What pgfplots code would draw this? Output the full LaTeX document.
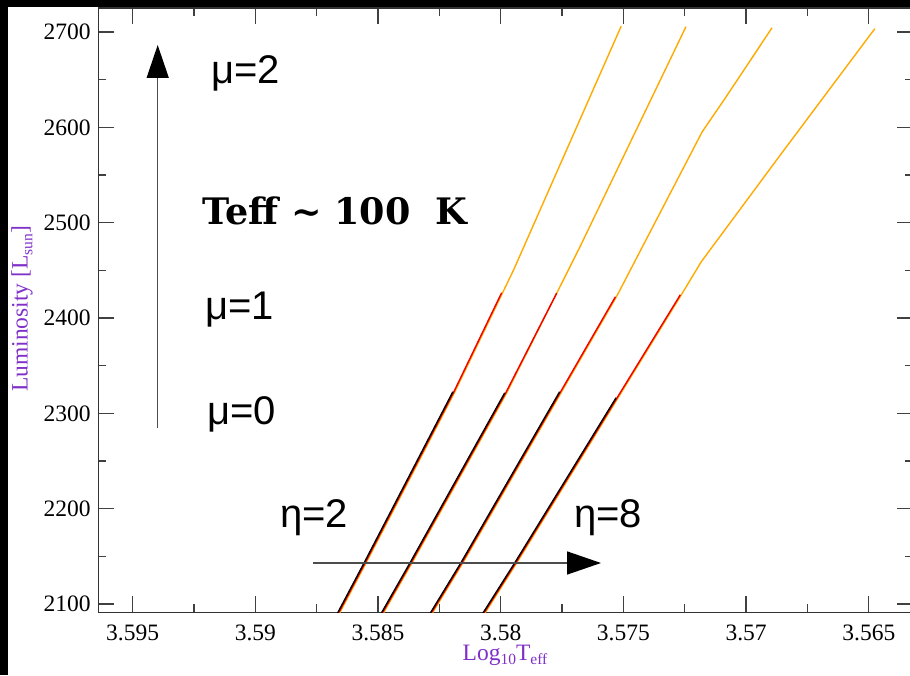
\documentclass[border=0pt]{standalone}
\usepackage{fontspec}
\setmainfont{Liberation Serif}
\newfontfamily\annsans{Liberation Sans}
\newfontfamily\annbold{DejaVu Serif}
\usepackage{pgfplots}
\pgfplotsset{compat=1.18}
\usetikzlibrary{arrows.meta}
\definecolor{lblpurple}{RGB}{128,48,200}
\definecolor{gorange}{RGB}{255,170,0}
\definecolor{gred}{RGB}{240,0,0}

\begin{document}
\begin{tikzpicture}[x=1pt,y=1pt]
\path[use as bounding box] (0,0) rectangle (910,675);
\begin{axis}[
  at={(98.3pt,62.7pt)}, anchor=south west,
  scale only axis, width=814.7pt, height=604.3pt,
  x dir=reverse,
  xmin=3.5632, xmax=3.5964, ymin=2091.3, ymax=2725.2,
  xtick={3.565,3.57,3.575,3.58,3.585,3.59,3.595},
  xticklabels={\mbox{3.565},\mbox{3.57},\mbox{3.575},\mbox{3.58},\mbox{3.585},\mbox{3.59},\mbox{3.595}},
  ytick={2100,2200,2300,2400,2500,2600,2700},
  yticklabels={\mbox{2100},\mbox{2200},\mbox{2300},\mbox{2400},\mbox{2500},\mbox{2600},\mbox{2700}},
  minor x tick num=1, minor y tick num=1,
  tick align=inside,
  major tick length=16pt, minor tick length=8pt,
  every tick/.style={line width=1.3pt, color=black!75},
  axis line style={line width=1.5pt, color=black!80},
  tick label style={font=\rmfamily\fontsize{23.5}{23.5}\selectfont},
  yticklabel style={inner sep=0pt, anchor=east, xshift=-7.5pt},
  xticklabel style={inner sep=0pt, anchor=north, yshift=-12.5pt},
  clip=true,
]
% eta group 1
\addplot[gorange, line width=1.4pt] coordinates {(3.586716,2083.3)(3.585488,2143.1)(3.581870,2322.6)(3.579472,2450.6)(3.575094,2706)};
\addplot[gred, line width=1.4pt] coordinates {(3.586756,2083.3)(3.585528,2143.1)(3.581910,2322.6)(3.579963,2426.5)};
\addplot[black, line width=1.4pt] coordinates {(3.586796,2083.3)(3.585568,2143.1)(3.581950,2322.6)};
% eta group 2
\addplot[gorange, line width=1.4pt] coordinates {(3.584943,2083.3)(3.583618,2143.1)(3.579756,2321.5)(3.576789,2473.7)(3.572451,2705.6)};
\addplot[gred, line width=1.4pt] coordinates {(3.584983,2083.3)(3.583658,2143.1)(3.579796,2321.5)(3.577719,2426.1)};
\addplot[black, line width=1.4pt] coordinates {(3.585023,2083.3)(3.583698,2143.1)(3.579836,2321.5)};
% eta group 3
\addplot[gorange, line width=1.4pt] coordinates {(3.582959,2083.3)(3.581545,2143.1)(3.575285,2422.3)(3.571789,2595.4)(3.570895,2629.0)(3.568943,2704.5)};
\addplot[gred, line width=1.4pt] coordinates {(3.582999,2083.3)(3.581585,2143.1)(3.575325,2422.3)};
\addplot[black, line width=1.4pt] coordinates {(3.583039,2083.3)(3.581625,2143.1)(3.577600,2322.6)};
% eta group 4
\addplot[gorange, line width=1.4pt] coordinates {(3.580821,2083.3)(3.579350,2143.1)(3.572642,2424.3)(3.571829,2459.0)(3.568659,2569.2)(3.564756,2703.5)};
\addplot[gred, line width=1.4pt] coordinates {(3.580861,2083.3)(3.579390,2143.1)(3.572682,2424.3)};
\addplot[black, line width=1.4pt] coordinates {(3.580901,2083.3)(3.579430,2143.1)(3.575300,2316.3)};
\end{axis}
% black frame strips of the screenshot
\fill[black] (0,668.3) rectangle (910,675);
\fill[black] (0,0) rectangle (8.3,675);
% axis labels
\node[rotate=90, text=lblpurple, font=\fontsize{23.5}{23.5}\selectfont, inner sep=0pt] at (22,366) {Luminosity [L\raisebox{-0.45ex}{\fontsize{15.5}{15.5}\selectfont sun}]};
\node[text=lblpurple, font=\fontsize{23.5}{23.5}\selectfont, inner sep=0pt, anchor=base] at (505,15) {Log\raisebox{-0.45ex}{\fontsize{15.5}{15.5}\selectfont 10}T\raisebox{-0.45ex}{\fontsize{15.5}{15.5}\selectfont eff}};
% arrows
\draw[black!70, line width=1.5pt, -{Triangle[length=33pt,width=22pt,fill=black,color=black]}] (157.7,247) -- (157.7,630);
\draw[black!70, line width=1.5pt, -{Triangle[length=34pt,width=23pt,fill=black,color=black]}] (313,112) -- (601,112);
% annotations
\node[anchor=base west, inner sep=0pt, font=\annsans\fontsize{40}{40}\selectfont] at (211,591) {μ=2};
\node[anchor=base west, inner sep=0pt, font=\annsans\fontsize{40}{40}\selectfont] at (205,355) {μ=1};
\node[anchor=base west, inner sep=0pt, font=\annsans\fontsize{40}{40}\selectfont] at (207,250) {μ=0};
\node[anchor=base west, inner sep=0pt, font=\annsans\fontsize{40}{40}\selectfont] at (280,148) {η=2};
\node[anchor=base west, inner sep=0pt, font=\annsans\fontsize{40}{40}\selectfont] at (574,148) {η=8};
\node[anchor=base west, inner sep=0pt, font=\annbold\bfseries\fontsize{36.5}{36.5}\selectfont] at (202,450) {Teff \textasciitilde{} 100\ \ K};
\end{tikzpicture}
\end{document}
